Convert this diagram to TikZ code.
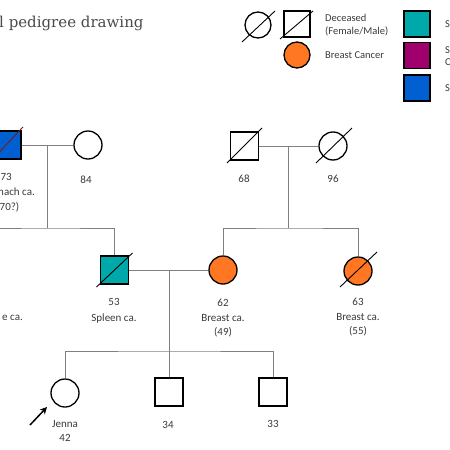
\documentclass[tikz,border=0pt]{standalone}
\usepackage{fontspec}
\setmainfont{Carlito}
\newfontfamily\titlefont{DejaVu Serif}
\usetikzlibrary{arrows.meta}
\definecolor{cTeal}{HTML}{00A9A9}
\definecolor{cMag}{HTML}{A0006C}
\definecolor{cBlue}{HTML}{0060D2}
\definecolor{cOrange}{HTML}{FF7722}
\definecolor{cText}{HTML}{3A3A3A}
\definecolor{cLine}{HTML}{808080}
\definecolor{cTitle}{HTML}{4A4A4A}
\definecolor{cSlashRed}{HTML}{7A1A1A}
\tikzset{
  sym/.style={draw=black, line width=1.3pt, inner sep=0pt},
  male/.style={sym, rectangle, minimum size=28pt},
  female/.style={sym, circle, minimum size=28pt},
  lmale/.style={sym, rectangle, minimum size=26pt},
  lfemale/.style={sym, circle, minimum size=26pt},
  conn/.style={draw=cLine, line width=0.8pt},
  slash/.style={draw=black, line width=0.9pt},
  lbl/.style={font=\fontsize{11}{14.5}\selectfont, text=cText, align=center, inner sep=0pt, anchor=north},
  leg/.style={font=\fontsize{10.5}{13}\selectfont, text=cText, inner sep=0pt, anchor=base west},
}
\begin{document}
\begin{tikzpicture}[x=1pt, y=-1pt]
\useasboundingbox (0,0) rectangle (450,450);
\clip (0,0) rectangle (450,450);
\fill[white] (0,0) rectangle (450,450);

% title
\node[font=\titlefont\fontsize{15}{18}\selectfont, text=cTitle, anchor=base west, inner sep=0pt] (title) at (-1,27) {l pedigree drawing};

% legend
\node[lfemale] (lgf) at (258,25) {};
\draw[slash] ([shift={(-16,17)}]lgf.center) -- ([shift={(17,-14)}]lgf.center);
\node[lmale] (lgm) at (297,24) {};
\draw[slash] ([shift={(-17,15)}]lgm.center) -- ([shift={(16,-13)}]lgm.center);
\node[leg] (ltd) at (325,21.5) {Deceased};
\node[leg] (ltd2) at (325,34.5) {(Female/Male)};
\node[lfemale, fill=cOrange] (lbc) at (297,55) {};
\node[leg] (ltb) at (325,58.5) {Breast Cancer};
\node[lmale, fill=cTeal] (lsq1) at (417,24) {};
\node[lmale, fill=cMag] (lsq2) at (417,55.5) {};
\node[lmale, fill=cBlue] (lsq3) at (417,88) {};
\node[leg] (lts1) at (445,27.5) {S};
\node[leg] (lts2) at (445,53) {S};
\node[leg] (lts3) at (445,65) {C};
\node[leg] (lts4) at (445,91.5) {S};

% paternal grandparents
\node[male, fill=cBlue] (pgf) at (7,145) {};
\draw[draw=cSlashRed, line width=0.9pt] ([shift={(-17,17)}]pgf.center) -- ([shift={(16,-18)}]pgf.center);
\node[female] (pgm) at (88,145) {};
\coordinate (pm) at (47,145);
\coordinate (ps) at (47,228);
\coordinate (psl) at (-5,228);
\draw[conn] (pgf.east) -- (pgm.west);
\node[lbl, anchor=north east] (t73) at (12,173) {73};
\node[lbl, anchor=north east] (t73b) at (35,187.5) {mach ca.};
\node[lbl, anchor=north east] (t73c) at (19.5,202) {70?)};
\node[lbl] (t84) at (86,176) {84};

% left sibling label fragment
\node[lbl, anchor=base east] (tle) at (23,320.5) {e ca.};

% maternal grandparents
\node[male] (mgf) at (244.5,146) {};
\draw[slash] ([shift={(-17.5,17)}]mgf.center) -- ([shift={(17.5,-18)}]mgf.center);
\node[female] (mgm) at (333,146) {};
\draw[slash] ([shift={(-17,17)}]mgm.center) -- ([shift={(19,-18)}]mgm.center);
\coordinate (mm) at (288,146);
\coordinate (ms) at (288,228);
\draw[conn] (mgf.east) -- (mgm.west);
\node[lbl] (t68) at (244,175) {68};
\node[lbl] (t96) at (333,175) {96};

% parents generation
\node[male, fill=cTeal] (fa) at (114.5,270) {};
\draw[slash] ([shift={(-18,17)}]fa.center) -- ([shift={(18,-17)}]fa.center);
\node[female, fill=cOrange] (mo) at (223,270) {};
\node[female, fill=cOrange] (au) at (358,271) {};
\draw[slash] ([shift={(-18,16)}]au.center) -- ([shift={(19,-19)}]au.center);
\coordinate (pc) at (169,270);
\coordinate (cs) at (169,351);

\node[lbl] (t53) at (114,298) {53\\[1.5pt]Spleen ca.};
\node[lbl] (t62) at (223,299) {62\\Breast ca.\\(49)};
\node[lbl] (t63) at (358,298) {63\\Breast ca.\\(55)};

% children
\node[female] (je) at (65,393) {};
\node[male] (s34) at (169,392) {};
\node[male] (s33) at (273,392) {};
\node[lbl] (tje) at (65,420) {Jenna\\42};
\node[lbl] (t34) at (168,421) {34};
\node[lbl] (t33) at (273,420) {33};

% connectors
\draw[conn] (pm) -- (ps);
\draw[conn] (psl) -- (ps) -| (fa.north);
\draw[conn] (mm) -- (ms);
\draw[conn] (mo.north) |- (ms) -| (au.north);
\draw[conn] (fa.east) -- (mo.west);
\draw[conn] (pc) -- (s34.north);
\draw[conn] (je.north) |- (cs) -| (s33.north);

% proband arrow
\coordinate (arT) at (30,425);
\coordinate (arH) at (47,407);
\draw[line width=1.5pt, -{Stealth[length=7pt,width=7pt]}] (arT) -- (arH);
\end{tikzpicture}
\end{document}
